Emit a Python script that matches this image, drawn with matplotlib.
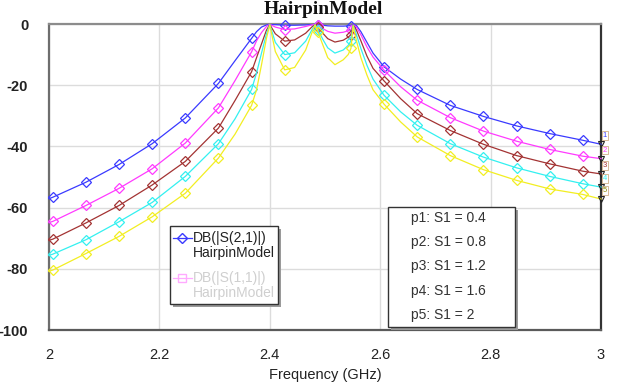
import numpy as np
import matplotlib

matplotlib.use("Agg")
import matplotlib.pyplot as plt
from matplotlib.patches import Rectangle
from matplotlib.lines import Line2D

W, H = 632, 390

# ---- data -----------------------------------------------------------------
freq = [2.000, 2.007, 2.067, 2.127, 2.187, 2.247, 2.307, 2.337, 2.367, 2.376,
        2.385, 2.394, 2.400, 2.410, 2.427, 2.445, 2.465, 2.476, 2.482, 2.487,
        2.496, 2.505, 2.518, 2.533, 2.542, 2.547, 2.551, 2.557, 2.565, 2.576,
        2.587, 2.607, 2.637, 2.667, 2.727, 2.787, 2.847, 2.907, 2.967, 3.000]

marker_freq = [2.007, 2.067, 2.127, 2.187, 2.247, 2.307, 2.367, 2.427, 2.487,
               2.547, 2.607, 2.667, 2.727, 2.787, 2.847, 2.907, 2.967]

s21_p1 = [-57.1, -56.6, -51.7, -45.9, -39.1, -30.7, -19.4, -12.0, -4.7, -2.5,
          -1.0, -0.3, -0.2, -0.2, -0.4, -0.4, -0.3, -0.2, -0.1, -0.2,
          -0.4, -0.6, -0.7, -0.7, -0.6, -0.5, -0.2, -0.5, -2.5, -6.0,
          -9.5, -14.0, -18.0, -21.4, -26.6, -30.2, -33.3, -35.8, -38.0, -39.3]
s21_p2 = [-64.9, -64.5, -59.3, -53.7, -47.3, -38.9, -27.4, -18.5, -9.1, -5.5,
          -2.8, -0.8, -0.1, -1.0, -1.8, -1.6, -0.8, -0.3, -0.1, -0.4,
          -1.5, -2.4, -3.0, -2.7, -2.2, -1.8, -0.2, -1.0, -3.5, -7.5,
          -10.8, -15.1, -20.5, -24.9, -30.6, -35.0, -38.3, -41.0, -43.2, -44.0]
s21_p3 = [-70.7, -70.3, -65.0, -59.3, -52.6, -44.9, -34.0, -25.0, -15.6, -11.0,
          -6.5, -2.0, -0.2, -3.2, -5.6, -5.2, -3.0, -1.0, -0.2, -1.0,
          -3.0, -4.8, -5.9, -5.3, -4.3, -3.5, -0.3, -2.0, -5.5, -10.5,
          -14.5, -18.6, -24.4, -29.3, -34.8, -39.3, -43.0, -45.7, -48.1, -49.0]
s21_p4 = [-75.6, -75.2, -70.5, -64.6, -58.3, -49.8, -39.1, -31.0, -21.4, -16.0,
          -9.5, -3.2, -0.2, -6.0, -10.0, -9.4, -5.6, -2.0, -0.2, -1.8,
          -5.0, -7.8, -9.5, -8.5, -7.0, -5.5, -0.4, -3.5, -8.0, -13.5,
          -18.0, -23.3, -28.7, -33.1, -39.1, -43.5, -47.0, -49.8, -52.2, -53.3]
s21_p5 = [-80.8, -80.4, -75.0, -69.4, -63.0, -55.3, -43.8, -36.0, -26.6, -21.5,
          -13.3, -4.6, -0.3, -9.0, -15.0, -14.2, -8.5, -3.0, -0.3, -2.5,
          -6.8, -11.0, -13.3, -11.7, -10.0, -8.0, -0.6, -5.5, -11.0, -16.7,
          -21.5, -26.2, -32.0, -36.9, -43.0, -47.6, -51.1, -53.9, -55.7, -57.2]

series = [s21_p1, s21_p2, s21_p3, s21_p4, s21_p5]
colors = ["#3a3aff", "#ff3aff", "#a33333", "#33f0f0", "#f2ee22"]
param_labels = ["p1: S1 = 0.4", "p2: S1 = 0.8", "p3: S1 = 1.2",
                "p4: S1 = 1.6", "p5: S1 = 2"]
xticks = [2, 2.2, 2.4, 2.6, 2.8, 3]
xtick_labels = ["2", "2.2", "2.4", "2.6", "2.8", "3"]
yticks = [0, -20, -40, -60, -80, -100]

plt.rcParams["font.family"] = ["Liberation Sans", "DejaVu Sans"]


def fx(px):
    return px / W


def fy(py):
    return 1 - py / H


fig = plt.figure(figsize=(W / 100, H / 100), dpi=100)
ax = fig.add_axes([fx(49), fy(330), fx(601) - fx(49), fy(24) - fy(330)])

mark_idx = [freq.index(f) for f in marker_freq]
for vals, col in zip(series, colors):
    ax.plot(freq, vals, color=col, lw=0.9, marker="D", markersize=5.5,
            markerfacecolor="none", markeredgecolor=col, markeredgewidth=0.9,
            markevery=mark_idx, clip_on=False, zorder=3)

# trace labels at the right end
for i, (vals, col) in enumerate(zip(series, colors)):
    ax.plot(freq[-1], vals[-1], marker="v", markersize=5, markerfacecolor="none",
            markeredgecolor="#222222", markeredgewidth=0.8, clip_on=False, zorder=4)
    ax.text(freq[-1] + 0.003, vals[-1] + 2.8, str(i + 1), fontsize=5.5,
            color=col if i != 4 else "#888800", ha="left", va="center",
            bbox=dict(boxstyle="square,pad=0.1", fc="white", ec="#c8a070", lw=0.5),
            zorder=5, clip_on=False)

ax.set_xlim(2, 3)
ax.set_ylim(-100, 0)
ax.set_xticks(xticks)
ax.set_xticklabels(xtick_labels, fontsize=10.5, color="#222222")
ax.set_yticks(yticks)
ax.set_yticklabels([str(v) for v in yticks], fontsize=10.5, fontweight="bold",
                   color="#222222")
ax.tick_params(axis="both", length=0)
ax.tick_params(axis="y", pad=15)
ax.tick_params(axis="x", pad=13)
ax.grid(True, color="#dcdcdc", lw=1.0)
ax.set_axisbelow(True)
for side, col in [("top", "#8c8c8c"), ("left", "#6e6e6e"),
                  ("bottom", "#5a5a5a"), ("right", "#333333")]:
    ax.spines[side].set_color(col)
    ax.spines[side].set_linewidth(1.6)

fig.text(fx(325), fy(375), "Frequency (GHz)", fontsize=10.5, ha="center",
         va="center", color="#222222")
fig.text(fx(323), fy(9), "HairpinModel", fontsize=14, fontweight="bold",
         family="Liberation Serif", ha="center", va="center", color="#111111")


def box(x0, y0, x1, y1):
    fig.add_artist(Rectangle((fx(x0 + 3), fy(y1 + 3)), fx(x1 - x0), fy(y0) - fy(y1),
                             transform=fig.transFigure, fc="#9a9a9a", ec="none",
                             zorder=6))
    fig.add_artist(Rectangle((fx(x0), fy(y1)), fx(x1 - x0), fy(y0) - fy(y1),
                             transform=fig.transFigure, fc="white", ec="#333333",
                             lw=1.0, zorder=7))


# legend box
box(170, 226, 278, 304)
fig.add_artist(Line2D([fx(173), fx(192)], [fy(238), fy(238)], color=colors[0],
                      lw=0.9, transform=fig.transFigure, zorder=8))
fig.add_artist(Line2D([fx(182)], [fy(238)], color=colors[0], lw=0, marker="D",
                      markersize=5.5, markerfacecolor="none",
                      transform=fig.transFigure, zorder=8))
fig.add_artist(Line2D([fx(173), fx(192)], [fy(278), fy(278)], color="#ffaaff",
                      lw=0.9, transform=fig.transFigure, zorder=8))
fig.add_artist(Line2D([fx(182)], [fy(278)], color="#ffaaff", lw=0, marker="s",
                      markersize=5.5, markerfacecolor="none",
                      transform=fig.transFigure, zorder=8))
fig.text(fx(193), fy(238), "DB(|S(2,1)|)", fontsize=10, va="center",
         color="#222222", zorder=8)
fig.text(fx(193), fy(253), "HairpinModel", fontsize=10, va="center",
         color="#222222", zorder=8)
fig.text(fx(193), fy(278), "DB(|S(1,1)|)", fontsize=10, va="center",
         color="#cfcfcf", zorder=8)
fig.text(fx(193), fy(293), "HairpinModel", fontsize=10, va="center",
         color="#cfcfcf", zorder=8)

# parameter box
box(388, 207, 515, 327)
for k, lab in enumerate(param_labels):
    fig.text(fx(411), fy(218 + 24.2 * k), lab, fontsize=10, va="center",
             color="#333333", zorder=8)

fig.savefig("out.png", dpi=100)
